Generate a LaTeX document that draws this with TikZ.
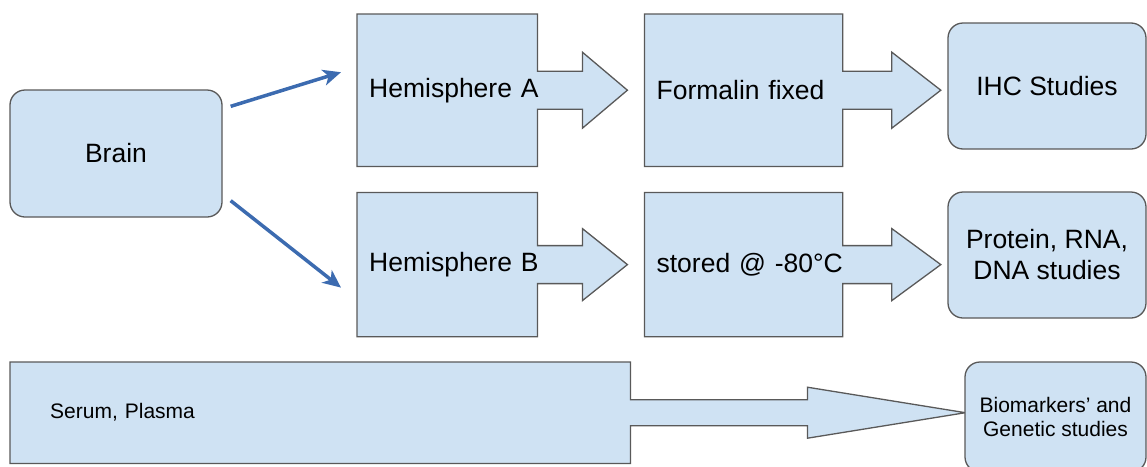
\documentclass[tikz,border=0pt]{standalone}
\usepackage{fontspec}
\setmainfont{Liberation Sans}
\usepackage{tikz}
\usetikzlibrary{positioning,arrows.meta,calc,backgrounds}
\definecolor{cFill}{HTML}{CFE2F3}
\definecolor{cLine}{HTML}{595959}
\definecolor{cArr} {HTML}{3C6BB0}
\tikzset{
  >={Stealth[length=18pt,width=16pt,inset=5pt]},
  rbox/.style ={rounded corners=15pt,draw=cLine,fill=cFill,line width=1.3pt,
                align=center,inner sep=0pt},
  sqbox/.style={align=left,inner ysep=0pt,inner xsep=12pt,anchor=north west},
  bigf/.style ={font=\fontsize{26.5}{31}\selectfont},
  smf/.style  ={font=\fontsize{21}{24}\selectfont},
  barr/.style ={->,line width=3.5pt,cArr},
  tail/.style ={fill=cFill,draw=cLine,line width=1.3pt,line join=miter},
}

\begin{document}
\begin{tikzpicture}[x=1pt,y=-1pt]
  \useasboundingbox (0,0) rectangle (1147,466);
  \node[rbox,bigf,minimum width=212pt,minimum height=127pt] (brain) at (116,153.5) {Brain};
  \node[sqbox,bigf,text width=156pt,minimum width=180pt,minimum height=152pt] (hemA) at (357,14) {\mbox{Hemisphere A}};
  \node[sqbox,bigf,text width=174pt,minimum width=198pt,minimum height=152pt,right=107pt of hemA] (fix) {\mbox{Formalin fixed}};
  \node[sqbox,bigf,text width=156pt,minimum width=180pt,minimum height=144pt,below=26pt of hemA] (hemB) {\mbox{Hemisphere B}};
  \node[sqbox,bigf,text width=174pt,minimum width=198pt,minimum height=144pt,right=107pt of hemB] (frz) {\mbox{stored @ -80°C}};
  \node[sqbox,smf,inner xsep=40pt,text width=540pt,minimum width=620pt,minimum height=101pt] (serum) at (10,362) {Serum, Plasma};
  \node[rbox,bigf,minimum width=198pt,minimum height=126pt] (ihc) at (1047,86) {IHC Studies};
  \node[rbox,bigf,minimum width=198pt,minimum height=126pt] (prot) at (1047,255) {Protein, RNA,\\DNA studies};
  \node[rbox,smf,minimum width=181pt,minimum height=110pt] (bio) at (1055.5,417) {Biomarkers’ and\\Genetic studies};
  % boxes with their arrow tails, behind the text
  \begin{scope}[on background layer]
    \foreach \n/\sh/\hh/\bs/\tp in {hemA/19/38/45/90,fix/19/38/49/98,hemB/19/36/45/90,frz/19/36/49/98,serum/13/25.5/177/335}
      \path[tail] (\n.north west) -- (\n.north east) -- ($(\n.east)+(0,-\sh)$) -- ($(\n.east)+(\bs,-\sh)$)
        -- ($(\n.east)+(\bs,-\hh)$) -- ($(\n.east)+(\tp,0)$) -- ($(\n.east)+(\bs,\hh)$) -- ($(\n.east)+(\bs,\sh)$)
        -- ($(\n.east)+(0,\sh)$) -- (\n.south east) -- (\n.south west) -- cycle;
  \end{scope}
  \draw[barr] ([shift={(8pt,-17pt)}]brain.north east) -- ([shift={(-16pt,18pt)}]hemA.west);
  \draw[barr] ([shift={(8pt,17pt)}]brain.south east) -- ([shift={(-16pt,-23pt)}]hemB.west);
\end{tikzpicture}
\end{document}
